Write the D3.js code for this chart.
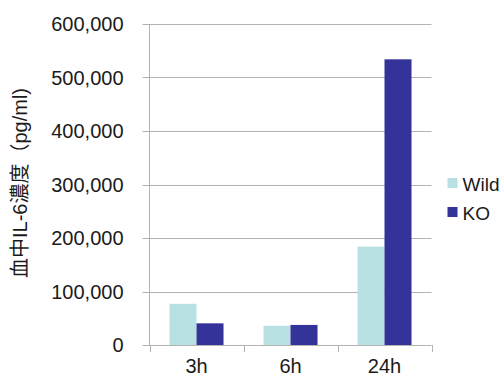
<!DOCTYPE html>
<html>
<head>
<meta charset="utf-8">
<script src="https://cdn.jsdelivr.net/npm/d3@7"></script>
<style>
  html, body { margin: 0; padding: 0; background: #fff; }
  svg { display: block; }
  text { font-family: "Liberation Sans", Arial, sans-serif; fill: #1a1a1a; }
</style>
</head>
<body>
<svg id="chart" width="504" height="378"></svg>
<script>
const categories = ["3h", "6h", "24h"];
const seriesNames = ["Wild", "KO"];
const wildValues = [77000, 36000, 184000];
const koValues = [40500, 37500, 534000];
const yTicks = [0, 100000, 200000, 300000, 400000, 500000, 600000];
const yTitle = "血中IL-6濃度（pg/ml)";
const colors = ["#b9e1e3", "#333399"];

const svg = d3.select("#chart");
const plot = { left: 149.5, right: 431.5, top: 24, bottom: 345 };

const x0 = d3.scaleBand().domain(categories).range([plot.left, plot.right]).paddingInner(0).paddingOuter(0);
const x1 = d3.scaleBand().domain(seriesNames).range([0, x0.bandwidth()]).paddingOuter(0.74).paddingInner(0);
const y = d3.scaleLinear().domain([0, 600000]).range([plot.bottom, plot.top]);

// gridlines
svg.append("g").selectAll("line").data(yTicks).join("line")
  .attr("x1", plot.left - 7).attr("x2", plot.right)
  .attr("y1", d => Math.round(y(d)) + 0.5).attr("y2", d => Math.round(y(d)) + 0.5)
  .attr("stroke", "#b3b3b3").attr("stroke-width", 1);

// y axis line
svg.append("line")
  .attr("x1", plot.left).attr("x2", plot.left)
  .attr("y1", plot.top).attr("y2", plot.bottom)
  .attr("stroke", "#b3b3b3");

// y tick labels
const fmt = d3.format(",");
svg.append("g").selectAll("text").data(yTicks).join("text")
  .attr("x", 123.5).attr("y", d => y(d))
  .attr("dy", "0.36em")
  .attr("text-anchor", "end")
  .attr("font-size", 20)
  .text(d => fmt(d));

// x ticks (category boundaries)
const bounds = categories.map(c => x0(c)).concat([x0(categories[categories.length - 1]) + x0.bandwidth()]);
svg.append("g").selectAll("line").data(bounds).join("line")
  .attr("x1", d => Math.round(d) + 0.5).attr("x2", d => Math.round(d) + 0.5)
  .attr("y1", plot.bottom).attr("y2", plot.bottom + 7)
  .attr("stroke", "#b3b3b3");

// bars
const data = categories.map((c, i) => ({ cat: c, vals: [wildValues[i], koValues[i]] }));
const groups = svg.append("g").selectAll("g").data(data).join("g")
  .attr("transform", d => `translate(${x0(d.cat)},0)`);
groups.selectAll("rect").data(d => d.vals.map((v, j) => ({ name: seriesNames[j], v, j })))
  .join("rect")
  .attr("x", d => x1(d.name))
  .attr("width", x1.bandwidth())
  .attr("y", d => y(d.v))
  .attr("height", d => y(0) - y(d.v))
  .attr("fill", d => colors[d.j]);

// x labels
svg.append("g").selectAll("text").data(categories).join("text")
  .attr("x", d => x0(d) + x0.bandwidth() / 2)
  .attr("y", 373)
  .attr("text-anchor", "middle")
  .attr("font-size", 20)
  .text(d => d);

// y title
svg.append("text")
  .attr("transform", "translate(20,183) rotate(-90)")
  .attr("dy", "0.36em")
  .attr("text-anchor", "middle")
  .attr("font-size", 20)
  .style("font-family", "'Liberation Sans', 'Noto Sans CJK JP', sans-serif")
  .text(yTitle);

// legend
const legend = svg.append("g").selectAll("g").data(seriesNames).join("g")
  .attr("transform", (d, i) => `translate(447.5,${178 + i * 29})`);
legend.append("rect").attr("width", 10).attr("height", 10).attr("fill", (d, i) => colors[i]);
legend.append("text").attr("x", 15).attr("y", 12.5).attr("font-size", 19).text(d => d);
</script>
</body>
</html>
